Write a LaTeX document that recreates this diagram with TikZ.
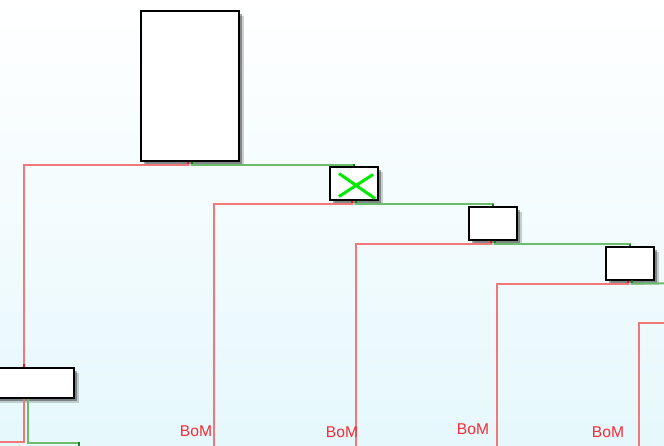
\documentclass[tikz,border=0pt]{standalone}
\usepackage{fontspec}
\newfontfamily\bomfont{Liberation Sans}
\usetikzlibrary{shadows}

\definecolor{bgcyan}{RGB}{230,248,252}
\definecolor{wirered}{RGB}{240,120,122}
\definecolor{wiregreen}{RGB}{108,188,110}
\definecolor{stubred}{RGB}{215,30,30}
\definecolor{stubgreen}{RGB}{20,130,30}
\definecolor{bomred}{RGB}{245,45,55}

\tikzset{
  part/.style={draw=black, line width=1.2pt, fill=white, inner sep=0pt,
    drop shadow={shadow xshift=4.5pt, shadow yshift=-4.5pt, opacity=0.18, fill=black},
    drop shadow={shadow xshift=3pt, shadow yshift=-3pt, opacity=0.35, fill=black}},
  redwire/.style={draw=wirered, line width=2pt},
  greenwire/.style={draw=wiregreen, line width=2pt},
  redstub/.style={draw=stubred, line width=2pt},
  greenstub/.style={draw=stubgreen, line width=2pt},
  xmark/.style={draw={rgb,255:red,0;green,235;blue,0}, line width=3pt},
  bom/.style={text=bomred, font=\bomfont\fontsize{15.6}{18}\selectfont, inner sep=0pt}
}

\begin{document}
\begin{tikzpicture}[x=1pt, y=-1pt]
  \useasboundingbox (0,0) rectangle (664,445);
  \clip (0,0) rectangle (664,445);
  \shade[top color=white, bottom color=bgcyan] (0,0) rectangle (664,445);

  % parts
  \node[part, minimum width=98pt, minimum height=150pt] (A) at (190,86) {};
  \node[part, minimum width=48pt, minimum height=33pt] (X) at (354,183.5) {};
  \node[part, minimum width=48pt, minimum height=33pt] (B) at (493,223.5) {};
  \node[part, minimum width=48pt, minimum height=33pt] (C) at (630,263.5) {};
  \node[part, minimum width=96pt, minimum height=30pt] (D) at (26,383) {};

  \draw[xmark] (X.center) +(-15,-10) -- +(21,15) +(-15,13) -- +(19,-9);

  % loose ends below and beside the view
  \coordinate (e1) at (214,460);
  \coordinate (e2) at (356,460);
  \coordinate (e3) at (497,460);
  \coordinate (e4) at (639,460);
  \coordinate (e5) at (79,460);
  \coordinate (e6) at (-20,442);
  \coordinate (f1) at (700,283);
  \coordinate (f2) at (700,323);

  % wires
  \draw[redwire] ([xshift=-2pt]A.south) -- ++(0,3) -| ([xshift=-2pt]D.north);
  \draw[greenwire] ([xshift=2pt]A.south) -- ++(0,3) -| (X.north);
  \draw[redwire] ([xshift=-2pt]X.south) -- ++(0,3) -| (e1);
  \draw[greenwire] ([xshift=2pt]X.south) -- ++(0,3) -| (B.north);
  \draw[redwire] ([xshift=-2pt]B.south) -- ++(0,3) -| (e2);
  \draw[greenwire] ([xshift=2pt]B.south) -- ++(0,3) -| (C.north);
  \draw[redwire] ([xshift=-2pt]C.south) -- ++(0,3) -| (e3);
  \draw[greenwire] ([xshift=2pt]C.south) -- ++(0,3) -- (f1);
  \draw[redwire] (f2) -| (e4);
  \draw[redwire] ([xshift=-2pt]D.south) |- (e6);
  \draw[greenwire] ([xshift=2pt]D.south) -- ++(0,44) -| (e5);

  % darker stubs at the joints
  \foreach \n in {A,X,B,C} {
    \draw[redstub] ([xshift=-2pt]\n.south) -- ++(0,2);
    \draw[greenstub] ([xshift=2pt]\n.south) -- ++(0,2);
  }
  \foreach \n in {X,B,C}
    \draw[greenstub] (\n.north) -- ++(0,-2.5);
  \draw[redstub] ([xshift=-2pt]D.north) -- ++(0,-3);
  \draw[greenstub] (79,442) -- (79,446);

  % labels
  \node[bom] (bom1) at (196,431) {BoM};
  \node[bom] (bom2) at (342,432) {BoM};
  \node[bom] (bom3) at (473,429) {BoM};
  \node[bom] (bom4) at (608,432) {BoM};
\end{tikzpicture}
\end{document}
